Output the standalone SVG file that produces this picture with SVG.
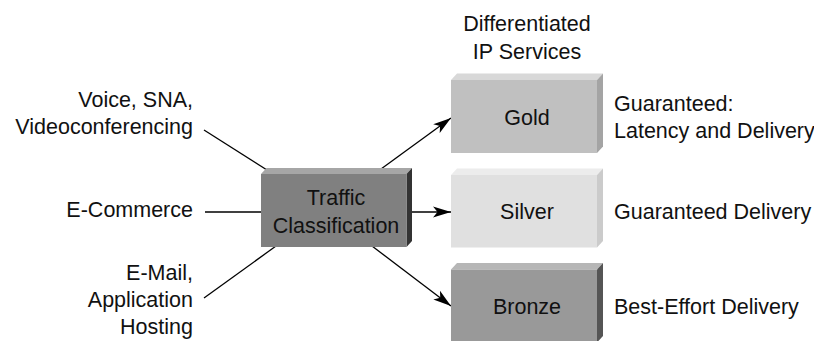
<svg xmlns="http://www.w3.org/2000/svg" width="814" height="341" viewBox="0 0 814 341">
  <defs>
    <style>
      text { font-family: "Liberation Sans", Arial, sans-serif; font-size: 21.5px; fill: #111; }
      .r { text-anchor: end; }
      .m { text-anchor: middle; }
      .wire { stroke: #000; stroke-width: 1.3; fill: none; }
      .arrow { marker-end: url(#head); }
    </style>
    <marker id="head" markerUnits="userSpaceOnUse" markerWidth="20" markerHeight="12" refX="18" refY="6" orient="auto">
      <path d="M0,0.5 L18,6 L0,11.5 L4.5,6 Z" fill="#000"/>
    </marker>
  </defs>

  <rect width="814" height="341" fill="#fff"/>

  <!-- connectors -->
  <g id="connectors">
    <line class="wire" x1="204" y1="130" x2="267" y2="170"/>
    <line class="wire" x1="205" y1="212" x2="262" y2="212"/>
    <line class="wire" x1="204" y1="298" x2="276" y2="246"/>
    <line class="wire arrow" x1="381" y1="169" x2="451" y2="118"/>
    <line class="wire arrow" x1="411" y1="212" x2="451" y2="212"/>
    <line class="wire arrow" x1="372" y1="246" x2="451" y2="306"/>
  </g>

  <!-- input traffic labels -->
  <g id="in-voice">
    <text class="r" x="193" y="107">Voice, SNA,</text>
    <text class="r" x="193" y="134">Videoconferencing</text>
  </g>
  <g id="in-ecommerce">
    <text class="r" x="193" y="217">E-Commerce</text>
  </g>
  <g id="in-email">
    <text class="r" x="193" y="280">E-Mail,</text>
    <text class="r" x="193" y="307">Application</text>
    <text class="r" x="193" y="334">Hosting</text>
  </g>

  <!-- classifier -->
  <g id="traffic-classification">
    <polygon points="261,174 266.5,168 412,168 406.5,174" fill="#a6a6a6"/>
    <polygon points="406.5,174 412,168 412,241 406.5,247" fill="#333"/>
    <rect x="261" y="174" width="145.5" height="73" fill="#808080"/>
    <text class="m" x="336" y="205">Traffic</text>
    <text class="m" x="336" y="233">Classification</text>
  </g>

  <!-- service classes -->
  <g id="heading">
    <text class="m" x="527" y="31">Differentiated</text>
    <text class="m" x="527" y="59">IP Services</text>
  </g>

  <g id="gold">
    <polygon points="451,80 457,73.5 603,73.5 597,80" fill="#d8d8d8"/>
    <polygon points="597,80 603,73.5 603,146.5 597,153" fill="#a4a4a4"/>
    <rect x="451" y="80" width="146" height="73" fill="#c0c0c0"/>
    <text class="m" x="527" y="125">Gold</text>
  </g>

  <g id="silver">
    <polygon points="451,175 457,168.5 603,168.5 597,175" fill="#ececec"/>
    <polygon points="597,175 603,168.5 603,241 597,247.5" fill="#cbcbcb"/>
    <rect x="451" y="175" width="146" height="72.5" fill="#e0e0e0"/>
    <text class="m" x="527" y="219">Silver</text>
  </g>

  <g id="bronze">
    <polygon points="451,269.5 457,263 603,263 597,269.5" fill="#b6b6b6"/>
    <polygon points="597,269.5 603,263 603,336 597,342.5" fill="#555"/>
    <rect x="451" y="269.5" width="146" height="73" fill="#999"/>
    <text class="m" x="527" y="314">Bronze</text>
  </g>

  <!-- service descriptions -->
  <g id="desc-gold">
    <text x="614" y="111">Guaranteed:</text>
    <text x="614" y="138">Latency and Delivery</text>
  </g>
  <g id="desc-silver">
    <text x="614" y="219">Guaranteed Delivery</text>
  </g>
  <g id="desc-bronze">
    <text x="614" y="314">Best-Effort Delivery</text>
  </g>
</svg>
